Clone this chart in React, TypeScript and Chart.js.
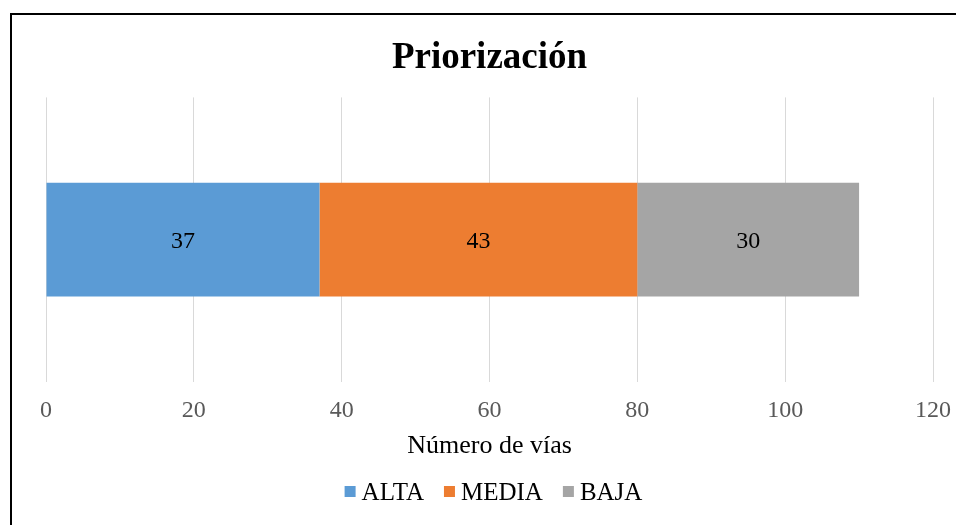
import React, { useEffect, useRef } from "react";
import { Chart, registerables } from "chart.js";

Chart.register(...registerables);

const categories = ["Priorización"];
const seriesNames = ["ALTA", "MEDIA", "BAJA"];
const altaValues = [37];
const mediaValues = [43];
const bajaValues = [30];
const xTicks = [0, 20, 40, 60, 80, 100, 120];

const COLORS = ["#5B9BD5", "#ED7D31", "#A5A5A5"];
const SERIF = "'Liberation Serif', 'Times New Roman', serif";

const dataLabelPlugin = {
  id: "dataLabels",
  afterDatasetsDraw(chart: any) {
    const ctx = chart.ctx;
    ctx.save();
    ctx.font = `24px ${SERIF}`;
    ctx.fillStyle = "#000000";
    ctx.textAlign = "center";
    ctx.textBaseline = "alphabetic";
    chart.data.datasets.forEach((ds: any, i: number) => {
      const meta = chart.getDatasetMeta(i);
      meta.data.forEach((el: any, j: number) => {
        const v = ds.data[j];
        const p = el.getProps(["x", "y", "base"], true);
        ctx.fillText(String(v), (p.x + p.base) / 2, p.y + 8);
      });
    });
    ctx.restore();
  },
};

const legendPlugin = {
  id: "customLegend",
  afterDraw(chart: any) {
    const ctx = chart.ctx;
    const box = 11;
    const gap = 6;
    const itemGap = 20;
    ctx.save();
    ctx.font = `25px ${SERIF}`;
    const widths = chart.data.datasets.map((d: any) => ctx.measureText(d.label).width);
    const total = widths.reduce((a: number, w: number) => a + w + box + gap, 0) + itemGap * (widths.length - 1);
    const cx = (chart.chartArea.left + chart.chartArea.right) / 2 + 4;
    let x = cx - total / 2;
    const baseline = 500;
    chart.data.datasets.forEach((d: any, i: number) => {
      ctx.fillStyle = d.backgroundColor;
      ctx.fillRect(x, baseline - 14, box, box);
      x += box + gap;
      ctx.fillStyle = "#000000";
      ctx.textAlign = "left";
      ctx.textBaseline = "alphabetic";
      ctx.fillText(d.label, x, baseline);
      x += widths[i] + itemGap;
    });
    ctx.restore();
  },
};

export default function App() {
  const ref = useRef<HTMLCanvasElement | null>(null);

  useEffect(() => {
    if (!ref.current) return;
    const seriesValues = [altaValues, mediaValues, bajaValues];
    const chart = new Chart(ref.current, {
      type: "bar",
      data: {
        labels: categories,
        datasets: seriesNames.map((name, i) => ({
          label: name,
          data: seriesValues[i],
          backgroundColor: COLORS[i],
          borderWidth: 0,
          barPercentage: 0.4,
          categoryPercentage: 1,
        })),
      },
      options: {
        indexAxis: "y",
        animation: false,
        responsive: false,
        maintainAspectRatio: false,
        layout: { padding: { left: 46, right: 32, top: 14, bottom: 63 } },
        plugins: {
          legend: { display: false },
          tooltip: { enabled: false },
          title: {
            display: true,
            text: "Priorización",
            color: "#000000",
            font: { family: SERIF, size: 37, weight: "bold" },
            padding: { top: 22, bottom: 17 },
          },
        },
        scales: {
          x: {
            stacked: true,
            min: 0,
            max: 120,
            afterBuildTicks: (scale: any) => {
              scale.ticks = xTicks.map((v) => ({ value: v }));
            },
            border: { display: false },
            grid: { color: "#D9D9D9", lineWidth: 1, drawTicks: false },
            ticks: {
              color: "#595959",
              padding: 14,
              font: { family: SERIF, size: 24 },
            },
            title: {
              display: true,
              text: "Número de vías",
              color: "#000000",
              font: { family: SERIF, size: 26 },
              padding: { top: -8, bottom: 0 },
            },
          },
          y: {
            stacked: true,
            display: false,
          },
        },
      },
      plugins: [dataLabelPlugin, legendPlugin],
    });
    return () => chart.destroy();
  }, []);

  return (
    <div
      style={{
        position: "absolute",
        left: 0,
        top: 0,
        width: 956,
        height: 525,
        overflow: "hidden",
        background: "#ffffff",
      }}
    >
      <canvas ref={ref} width={965} height={525} style={{ position: "absolute", left: 0, top: 0 }} />
      <div
        style={{
          position: "absolute",
          left: 10,
          top: 13,
          width: 1200,
          height: 1200,
          border: "2px solid #000000",
          pointerEvents: "none",
        }}
      />
    </div>
  );
}
